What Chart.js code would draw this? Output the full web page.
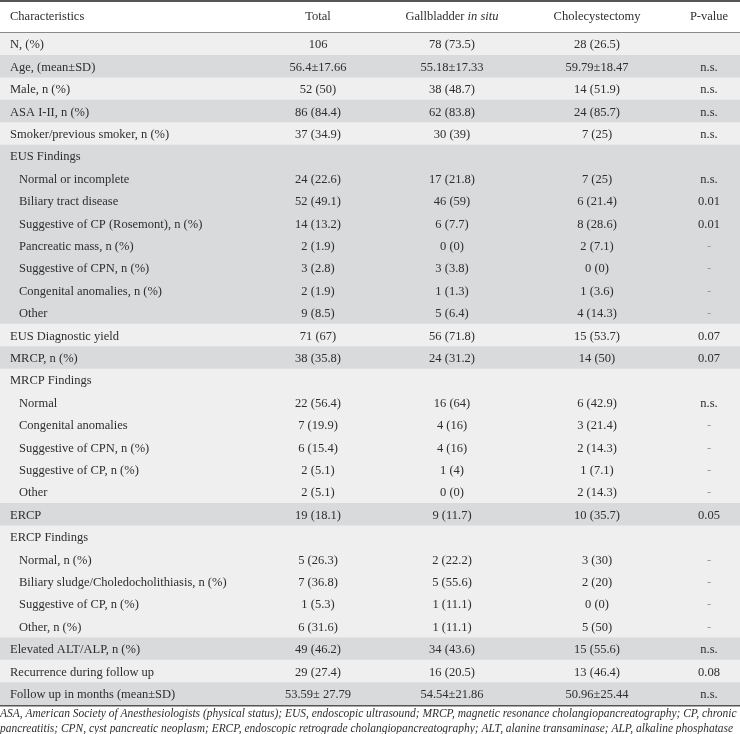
<!DOCTYPE html>
<html>
<head>
<meta charset="utf-8">
<script src="https://cdn.jsdelivr.net/npm/chart.js@4.4.1/dist/chart.umd.min.js"></script>
<style>
html,body{margin:0;padding:0;background:#fff;}
#wrap{width:740px;height:734px;position:relative;}
</style>
</head>
<body>
<div id="wrap"><canvas id="c" width="740" height="734"></canvas></div>
<script>
const headers = ["Characteristics", "Total", "Gallbladder ", "Cholecystectomy", "P-value"];
const headerItalic = "in situ";
const rowLabels = [
  "N, (%)", "Age, (mean±SD)", "Male, n (%)", "ASA I-II, n (%)", "Smoker/previous smoker, n (%)",
  "EUS Findings", "Normal or incomplete", "Biliary tract disease", "Suggestive of CP (Rosemont), n (%)",
  "Pancreatic mass, n (%)", "Suggestive of CPN, n (%)", "Congenital anomalies, n (%)", "Other",
  "EUS Diagnostic yield", "MRCP, n (%)",
  "MRCP Findings", "Normal", "Congenital anomalies", "Suggestive of CPN, n (%)", "Suggestive of CP, n (%)", "Other",
  "ERCP",
  "ERCP Findings", "Normal, n (%)", "Biliary sludge/Choledocholithiasis, n (%)", "Suggestive of CP, n (%)", "Other, n (%)",
  "Elevated ALT/ALP, n (%)", "Recurrence during follow up", "Follow up in months (mean±SD)"
];
const indented = [0,0,0,0,0, 0,1,1,1,1,1,1,1, 0,0, 0,1,1,1,1,1, 0, 0,1,1,1,1, 0,0,0];
const totalVals = ["106","56.4±17.66","52 (50)","86 (84.4)","37 (34.9)",
  "","24 (22.6)","52 (49.1)","14 (13.2)","2 (1.9)","3 (2.8)","2 (1.9)","9 (8.5)",
  "71 (67)","38 (35.8)",
  "","22 (56.4)","7 (19.9)","6 (15.4)","2 (5.1)","2 (5.1)",
  "19 (18.1)",
  "","5 (26.3)","7 (36.8)","1 (5.3)","6 (31.6)",
  "49 (46.2)","29 (27.4)","53.59± 27.79"];
const gallbladderVals = ["78 (73.5)","55.18±17.33","38 (48.7)","62 (83.8)","30 (39)",
  "","17 (21.8)","46 (59)","6 (7.7)","0 (0)","3 (3.8)","1 (1.3)","5 (6.4)",
  "56 (71.8)","24 (31.2)",
  "","16 (64)","4 (16)","4 (16)","1 (4)","0 (0)",
  "9 (11.7)",
  "","2 (22.2)","5 (55.6)","1 (11.1)","1 (11.1)",
  "34 (43.6)","16 (20.5)","54.54±21.86"];
const cholecystectomyVals = ["28 (26.5)","59.79±18.47","14 (51.9)","24 (85.7)","7 (25)",
  "","7 (25)","6 (21.4)","8 (28.6)","2 (7.1)","0 (0)","1 (3.6)","4 (14.3)",
  "15 (53.7)","14 (50)",
  "","6 (42.9)","3 (21.4)","2 (14.3)","1 (7.1)","2 (14.3)",
  "10 (35.7)",
  "","3 (30)","2 (20)","0 (0)","5 (50)",
  "15 (55.6)","13 (46.4)","50.96±25.44"];
const pVals = ["","n.s.","n.s.","n.s.","n.s.",
  "","n.s.","0.01","0.01","-","-","-","-",
  "0.07","0.07",
  "","n.s.","-","-","-","-",
  "0.05",
  "","-","-","-","-",
  "n.s.","0.08","n.s."];
const shade = [0,1,0,1,0, 1,1,1,1,1,1,1,1, 0,1, 0,0,0,0,0,0, 1, 0,0,0,0,0, 1,0,1];
const footnote = [
  "ASA, American Society of Anesthesiologists (physical status); EUS, endoscopic ultrasound; MRCP, magnetic resonance cholangiopancreatography; CP, chronic",
  "pancreatitis; CPN, cyst pancreatic neoplasm; ERCP, endoscopic retrograde cholangiopancreatography; ALT, alanine transaminase; ALP, alkaline phosphatase"
];

const LIGHT = "#efefef", DARK = "#d9dadc", TXT = "#2e2e2e";
const FONT = "'Liberation Serif', 'Times New Roman', serif";
const FS = "12.5px ";
const colX = [10, 318, 452, 597, 709]; // left for col0, centers for others

const tablePlugin = {
  id: 'tableText',
  afterDatasetsDraw(chart) {
    const ctx = chart.ctx;
    const y = chart.scales.y;
    const area = chart.chartArea;
    ctx.save();
    ctx.fillStyle = "#555";
    ctx.fillRect(0, 0, 740, 2);
    ctx.fillStyle = "#8a8a8a";
    ctx.fillRect(0, area.top - 1, 740, 1);
    ctx.fillStyle = "#555";
    ctx.fillRect(0, area.bottom, 740, 1.5);
    ctx.textBaseline = "middle";
    ctx.fillStyle = TXT;
    ctx.font = FS + FONT;
    const hy = 17;
    ctx.textAlign = "left";
    ctx.fillText(headers[0], colX[0], hy);
    ctx.textAlign = "center";
    ctx.fillText(headers[1], colX[1], hy);
    const w1 = ctx.measureText(headers[2]).width;
    ctx.font = "italic " + FS + FONT;
    const w2 = ctx.measureText(headerItalic).width;
    const start = colX[2] - (w1 + w2) / 2;
    ctx.textAlign = "left";
    ctx.font = FS + FONT;
    ctx.fillText(headers[2], start, hy);
    ctx.font = "italic " + FS + FONT;
    ctx.fillText(headerItalic, start + w1, hy);
    ctx.font = FS + FONT;
    ctx.textAlign = "center";
    ctx.fillText(headers[3], colX[3], hy);
    ctx.fillText(headers[4], colX[4], hy);
    rowLabels.forEach((lab, i) => {
      const py = y.getPixelForValue(i) + 1;
      ctx.fillStyle = TXT;
      ctx.textAlign = "left";
      ctx.fillText(lab, indented[i] ? 19 : colX[0], py);
      ctx.textAlign = "center";
      ctx.fillText(totalVals[i], colX[1], py);
      ctx.fillText(gallbladderVals[i], colX[2], py);
      ctx.fillText(cholecystectomyVals[i], colX[3], py);
      ctx.fillStyle = pVals[i] === "-" ? "#9a9a9a" : TXT;
      ctx.fillText(pVals[i], colX[4], py);
    });
    // footnote, sized to span the width like the reference
    ctx.fillStyle = TXT;
    ctx.textAlign = "left";
    ctx.font = "italic 12px " + FONT;
    const fw = ctx.measureText(footnote[0]).width;
    const fsz = Math.min(12.5, 12 * 737 / fw);
    ctx.font = "italic " + fsz.toFixed(2) + "px " + FONT;
    ctx.fillText(footnote[0], 0, 714);
    ctx.fillText(footnote[1], 0, 729);
    ctx.restore();
  }
};

new Chart(document.getElementById('c'), {
  type: 'bar',
  data: {
    labels: rowLabels,
    datasets: [{
      data: rowLabels.map(() => 1),
      backgroundColor: shade.map(s => s ? DARK : LIGHT),
      borderWidth: 0,
      barPercentage: 1,
      categoryPercentage: 1
    }]
  },
  options: {
    indexAxis: 'y',
    responsive: false,
    animation: false,
    layout: { padding: { top: 33, bottom: 29, left: 0, right: 0 } },
    plugins: { legend: { display: false }, tooltip: { enabled: false } },
    scales: {
      x: { display: false, min: 0, max: 1 },
      y: { display: false }
    }
  },
  plugins: [tablePlugin]
});
</script>
</body>
</html>
